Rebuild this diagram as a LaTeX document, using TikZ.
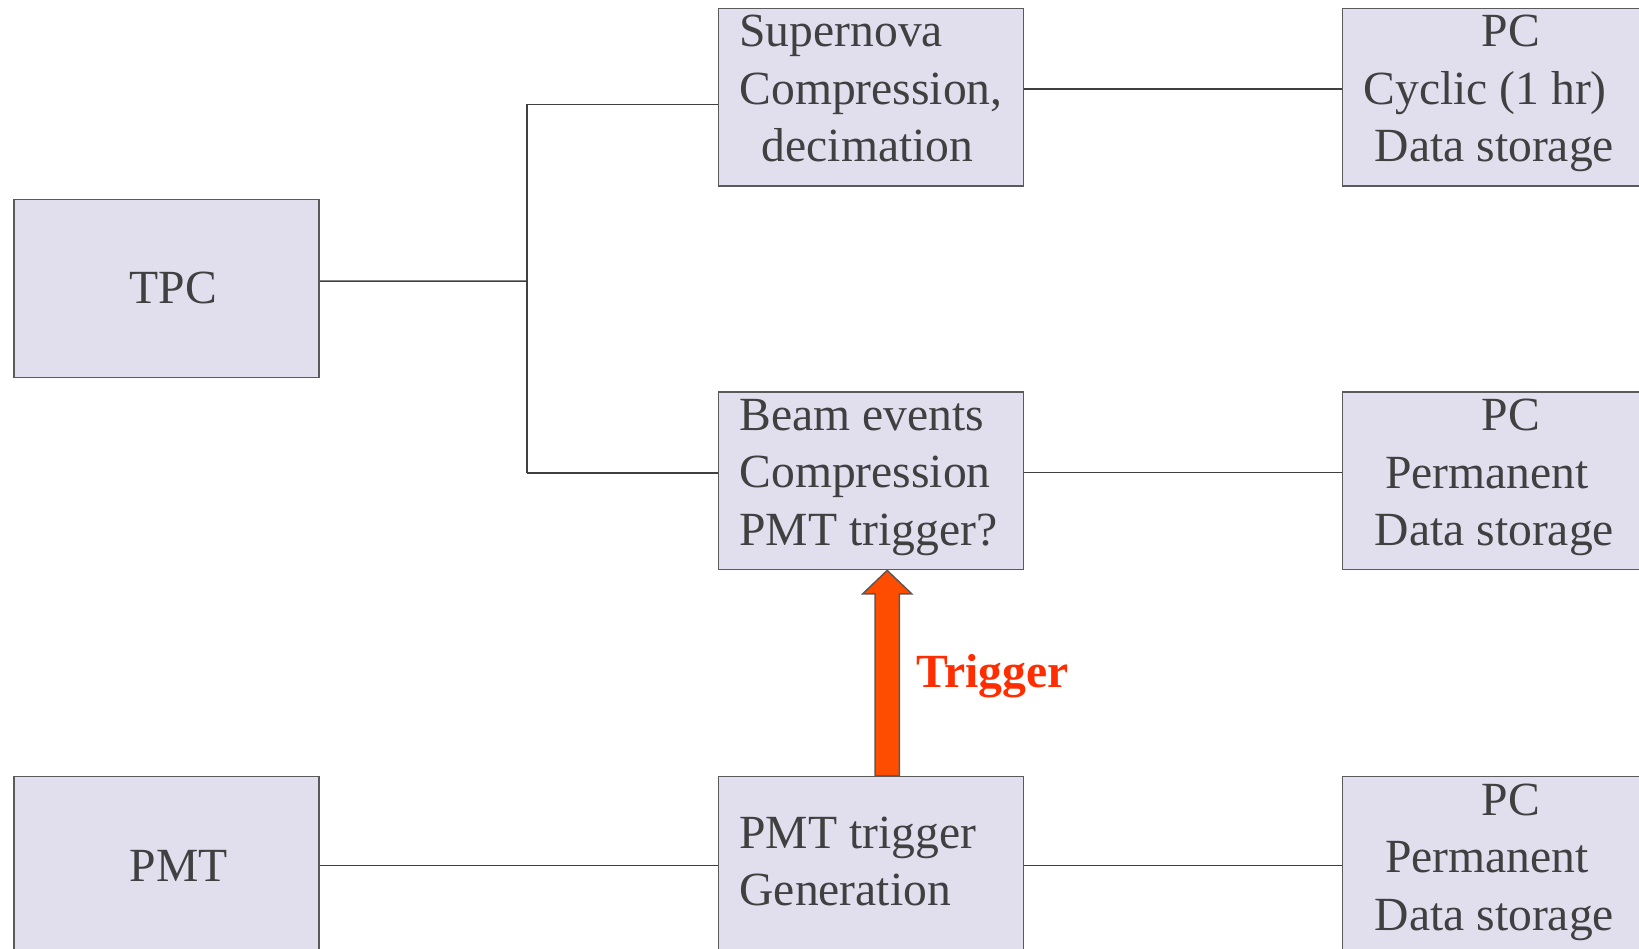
\documentclass[tikz,border=0pt]{standalone}
\usepackage{fontspec}
\setmainfont{Liberation Serif}
\usetikzlibrary{calc}
\definecolor{boxfill}{HTML}{E1DEEE}
\definecolor{boxline}{HTML}{5A5A5A}
\definecolor{txtgray}{HTML}{404040}
\definecolor{arrowfill}{HTML}{FF4D00}
\definecolor{trigred}{HTML}{FF2D00}
\tikzset{
  box/.style={rectangle, draw=boxline, fill=boxfill, line width=1.5pt, minimum width=305pt, minimum height=177.7pt, inner sep=0pt},
  txt/.style={anchor=base west, inner sep=0pt, align=left, text=txtgray, font=\fontsize{47.6}{57.5}\selectfont},
  conn/.style={draw=txtgray, line width=1.5pt},
  blockarrow/.style={draw=boxline, fill=arrowfill, line width=1.5pt, line join=miter}
}
\begin{document}
\begin{tikzpicture}[x=1pt,y=-1pt]
\clip (0,0) rectangle (1639,949);
\fill[white] (0,0) rectangle (1639,949);
% boxes
\node[box] (tpc)  at (166.7,288.55) {};
\node[box] (sn)   at (870.8,97.25) {};
\node[box] (pc1)  at (1495.1,97.25) {};
\node[box] (beam) at (870.8,480.85) {};
\node[box] (pc2)  at (1495.1,480.85) {};
\node[box] (pmt)  at (166.7,865.55) {};
\node[box] (pmtg) at (870.8,865.55) {};
\node[box] (pc3)  at (1495.1,865.55) {};
% texts (anchor = baseline of the last line)
\node[txt] (ttpc) at (129.6,304) {TPC};
\node[txt] (tpmt) at (129.6,881.2) {PMT};
\node[txt] (tsn) at (739.3,162) {Supernova\\Compression,\\\hspace*{22.4pt}decimation};
\node[txt] (tpc1) at (1363.3,162) {\hspace*{118.4pt}PC\\Cyclic (1 hr)\\\hspace*{11.3pt}Data storage};
\node[txt] (tbeam) at (739.3,545) {Beam events\\Compression\\PMT trigger?};
\node[txt] (tpc2) at (1374.6,545.5) {\hspace*{107.1pt}PC\\\hspace*{10.4pt}Permanent\\Data storage};
\node[txt] (tpmtg) at (739.3,905.8) {PMT trigger\\Generation};
\node[txt] (tpc3) at (1374.6,930) {\hspace*{107.1pt}PC\\\hspace*{10.4pt}Permanent\\Data storage};
% connectors
\coordinate (bj) at (526.8,281.2);
\coordinate (bt) at (526.8,104.5);
\coordinate (bb) at (526.8,473);
\draw[conn] ([yshift=7.3pt]tpc.east) -- (bj);
\draw[conn] (bt) -- (bb);
\draw[conn] (bt) -- ([yshift=-7.25pt]sn.west);
\draw[conn] (bb) -- ([yshift=7.85pt]beam.west);
\draw[conn] ([yshift=8.35pt]sn.east) -- ([yshift=8.35pt]pc1.west);
\draw[conn] ([yshift=8.35pt]beam.east) -- ([yshift=8.35pt]pc2.west);
\draw[conn] (pmt.east) -- (pmtg.west);
\draw[conn] (pmtg.east) -- (pc3.west);
% trigger arrow
\coordinate (ab) at ($(pmtg.north)+(16.4,0)$);
\coordinate (at) at ($(beam.south)+(16.4,0)$);
\draw[blockarrow] ($(ab)+(-12.2,0)$) -- ($(at)+(-12.2,23.4)$) -- ($(at)+(-24.5,23.4)$) -- (at) -- ($(at)+(24.5,23.4)$) -- ($(at)+(12.2,23.4)$) -- ($(ab)+(12.2,0)$) -- cycle;
\node[anchor=base west, inner sep=0pt, text=trigred, font=\fontsize{47.6}{57.5}\selectfont\bfseries] (trig) at (916,687.7) {Trigger};
\end{tikzpicture}
\end{document}
